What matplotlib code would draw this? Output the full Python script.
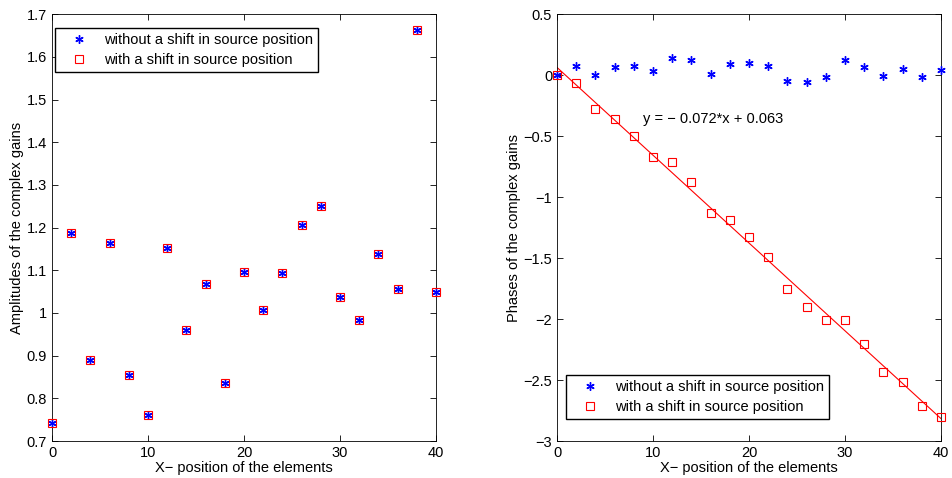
import matplotlib.pyplot as plt
import numpy as np

plt.rcParams['font.family'] = ['Liberation Sans', 'DejaVu Sans']

# element positions
x_pos = np.arange(0, 41, 2)

# amplitudes of the complex gains (both cases overlap)
amp_no_shift = [0.742, 1.188, 0.889, 1.165, 0.854, 0.760, 1.151, 0.959, 1.067, 0.836, 1.095,
                1.007, 1.093, 1.205, 1.251, 1.038, 0.983, 1.139, 1.057, 1.664, 1.048]
amp_shift = amp_no_shift

# phases of the complex gains
phase_no_shift = [0.0, 0.077, 0.005, 0.063, 0.071, 0.036, 0.139, 0.123, 0.011, 0.093, 0.098,
                  0.077, -0.046, -0.055, -0.016, 0.123, 0.068, -0.011, 0.052, -0.014, 0.046]
phase_shift = [0.0, -0.068, -0.281, -0.363, -0.500, -0.675, -0.716, -0.874, -1.128, -1.191, -1.328,
               -1.492, -1.757, -1.904, -2.008, -2.011, -2.208, -2.432, -2.514, -2.716, -2.806]

# linear fit shown on the right plot
fit_slope = -0.072
fit_intercept = 0.063

lab1 = 'without a shift in source position'
lab2 = 'with a shift in source position'
star = (6, 2, 0)
fs = 10.5

fig = plt.figure(figsize=(9.53, 4.78), dpi=100)
ax1 = fig.add_axes([0.0546, 0.0774, 0.403, 0.893])
ax2 = fig.add_axes([0.5845, 0.0774, 0.403, 0.893])

# left: amplitudes
ax1.plot(x_pos, amp_no_shift, linestyle='none', marker=star, color='blue', markersize=6,
         markeredgewidth=1.0, label=lab1, clip_on=False, zorder=3)
ax1.plot(x_pos, amp_shift, linestyle='none', marker='s', markerfacecolor='none',
         markeredgecolor='red', markersize=5.5, markeredgewidth=0.8, label=lab2, clip_on=False, zorder=3)
ax1.set_xlim(0, 40)
ax1.set_ylim(0.7, 1.7)
ax1.set_xticks([0, 10, 20, 30, 40])
ax1.set_yticks(np.arange(0.7, 1.71, 0.1))
ax1.set_yticklabels(['0.7', '0.8', '0.9', '1', '1.1', '1.2', '1.3', '1.4', '1.5', '1.6', '1.7'])
ax1.set_xlabel('X\u2212 position of the elements', fontsize=fs, labelpad=1)
ax1.set_ylabel('Amplitudes of the complex gains', fontsize=fs, labelpad=2)
ax1.legend(loc='upper left', bbox_to_anchor=(0.0078, 0.967), borderaxespad=0, fontsize=fs,
           fancybox=False, edgecolor='black', framealpha=1, handlelength=2.6, handletextpad=0.4,
           borderpad=0.35, labelspacing=0.4)

# right: phases
ax2.plot(x_pos, phase_no_shift, linestyle='none', marker=star, color='blue', markersize=6,
         markeredgewidth=1.0, label=lab1, clip_on=False, zorder=3)
ax2.plot(x_pos, phase_shift, linestyle='none', marker='s', markerfacecolor='none',
         markeredgecolor='red', markersize=5.5, markeredgewidth=0.8, label=lab2, clip_on=False, zorder=3)
fit_x = np.array([x_pos[0], x_pos[-1]])
ax2.plot(fit_x, fit_slope * fit_x + fit_intercept, color='red', linewidth=0.8)
ax2.text(9, -0.36, 'y = \u2212 0.072*x + 0.063', fontsize=fs, va='center', ha='left')
ax2.set_xlim(0, 40)
ax2.set_ylim(-3, 0.5)
ax2.set_xticks([0, 10, 20, 30, 40])
ax2.set_yticks([-3, -2.5, -2, -1.5, -1, -0.5, 0, 0.5])
ax2.set_yticklabels(['\u22123', '\u22122.5', '\u22122', '\u22121.5', '\u22121', '\u22120.5', '0', '0.5'])
ax2.set_xlabel('X\u2212 position of the elements', fontsize=fs, labelpad=1)
ax2.set_ylabel('Phases of the complex gains', fontsize=fs, labelpad=2)
ax2.legend(loc='lower left', bbox_to_anchor=(0.0234, 0.0515), borderaxespad=0, fontsize=fs,
           fancybox=False, edgecolor='black', framealpha=1, handlelength=2.6, handletextpad=0.4,
           borderpad=0.35, labelspacing=0.4)

for ax in (ax1, ax2):
    ax.tick_params(direction='in', top=True, right=True, length=4, labelsize=fs, width=0.6)
    for s in ax.spines.values():
        s.set_linewidth(0.6)

fig.savefig('out.png', dpi=100)
